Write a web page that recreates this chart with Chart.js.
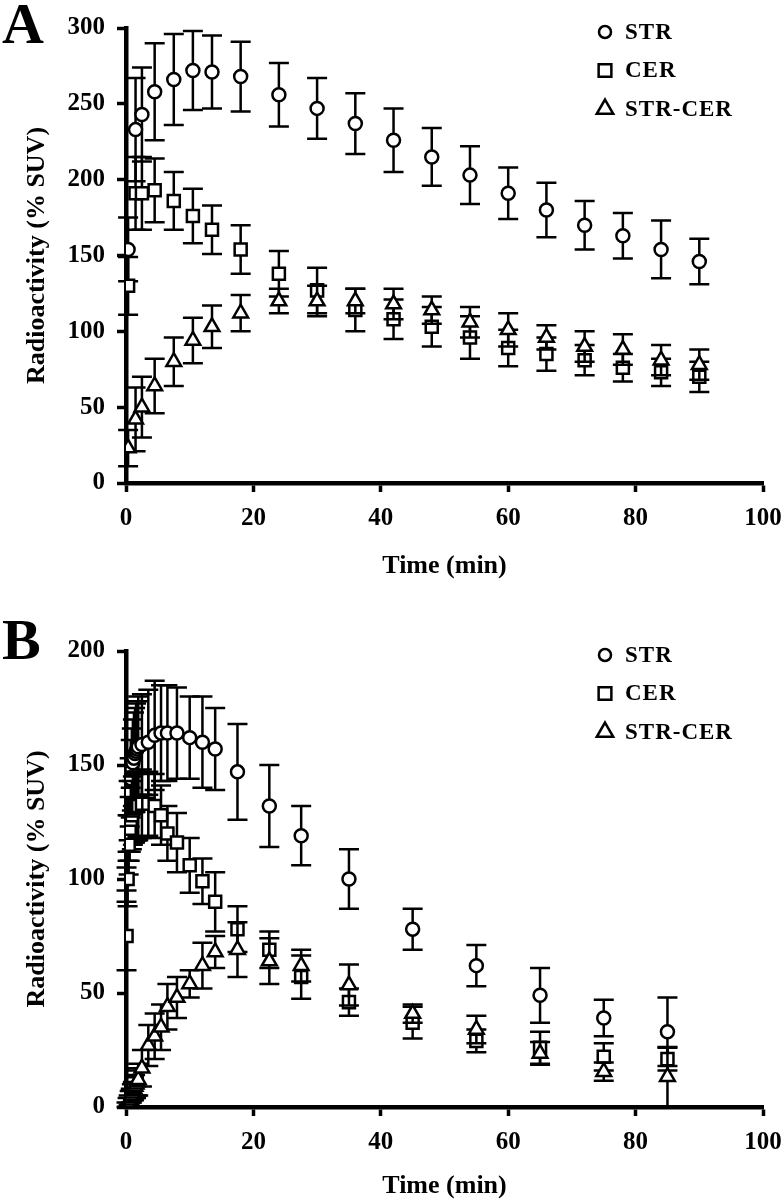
<!DOCTYPE html>
<html>
<head>
<meta charset="utf-8">
<script src="https://cdn.jsdelivr.net/npm/chart.js@4.4.0/dist/chart.umd.min.js"></script>
<style>
  html, body { margin: 0; padding: 0; background: #fff; }
  body { width: 782px; height: 1199px; position: relative; overflow: hidden; }
  .panel { position: absolute; left: 0; width: 782px; }
  .letter { position: absolute; left: 2px; font: bold 58px "Liberation Serif", "Times New Roman", serif; line-height: 1; }
</style>
</head>
<body>
<div class="panel" style="top:0;height:598px"><canvas id="chart-a" width="782" height="598"></canvas></div>
<div class="panel" style="top:598px;height:601px"><canvas id="chart-b" width="782" height="601"></canvas></div>
<div class="letter" style="top:-5px">A</div>
<div class="letter" style="top:611px">B</div>
<script>
// Panel A: time points (min) and mean ± SD (% SUV)
var TIMES_A = [0.33, 1.5, 2.5, 4.5, 7.5, 10.5, 13.5, 18, 24, 30, 36, 42, 48, 54, 60, 66, 72, 78, 84, 90];
var STR_A = [154, 233, 243, 258, 266, 272, 271, 268, 256, 247, 237, 226, 215, 203, 191, 180, 170, 163, 154, 146];
var STR_ERR_A = [21, 34, 31, 32, 30, 26, 24, 23, 21, 20, 20, 21, 19, 19, 17, 18, 16, 15, 19, 15];
var CER_A = [130, 191, 191, 193, 186, 176, 167, 154, 138, 127, 114, 108, 103, 96, 89, 85, 81, 76, 73, 70];
var CER_ERR_A = [19, 24, 24, 21, 19, 18, 16, 16, 15, 15, 14, 13, 13, 14, 12, 11, 10, 9, 9, 10];
var SC_A = [23, 42, 50, 64, 80, 94, 103, 112, 120, 120, 120, 118, 114, 106, 101, 96, 90, 88, 81, 78];
var SC_ERR_A = [12, 21, 20, 18, 16, 15, 14, 12, 8, 10, 8, 10, 9, 10, 11, 8, 10, 10, 10, 10];

// Panel B (first two minutes in 10 s frames, crowded against the y axis)
var TIMES_B = [0.083, 0.25, 0.42, 0.58, 0.75, 0.92, 1.08, 1.25, 1.42, 1.58, 1.75, 1.92,
  2.5, 3.5, 4.5, 5.5, 6.5, 8, 10, 12, 14, 17.5, 22.5, 27.5, 35, 45, 55, 65, 75, 85];
var STR_B = [100, 118, 130, 138, 144, 148, 151, 153, 155, 156, 157, 158,
  159, 160, 163, 164, 164, 164, 162, 160, 157, 147, 132, 119, 100, 78, 62, 49, 39, 33];
var STR_ERR_B = [5, 10, 13, 15, 17, 18, 19, 20, 20, 21, 21, 22,
  22, 23, 24, 21, 21, 20, 18, 20, 18, 21, 18, 13, 13, 9, 9, 12, 8, 15];
var CER_B = [75, 100, 115, 122, 126, 128, 130, 131, 131, 132, 132, 132,
  133, 133, 132, 128, 120, 116, 106, 99, 90, 78, 69, 57, 46, 37, 29, 26, 22, 21];
var CER_ERR_B = [15, 12, 13, 14, 14, 15, 15, 15, 15, 15, 15, 15,
  15, 14, 14, 13, 12, 13, 12, 10, 13, 10, 8, 9.5, 6, 7, 5, 7, 6, 5];
var SC_B = [1, 2, 3, 4, 5, 6, 7, 8, 9, 10, 11, 12,
  17, 27, 31, 35, 44, 48, 54, 62, 68, 69, 64, 62, 53.5, 41, 34, 23.5, 15.5, 13.3];
var SC_ERR_B = [1, 2, 2, 3, 3, 4, 4, 5, 5, 6, 6, 7,
  8, 9, 10, 10, 10, 9, 6, 10, 7, 12, 10, 7, 9, 4, 6, 5, 4, 13];

var LABELS = ['STR', 'CER', 'STR-CER'];
var X_TICKS = [0, 20, 40, 60, 80, 100];

var SERIF = '"Liberation Serif", "Times New Roman", serif';

function points(times, values) {
  return times.map(function (t, i) { return { x: t, y: values[i] }; });
}

/** Vertical error bars with caps, drawn under each dataset's markers. */
var errorBarPlugin = {
  id: 'errorBars',
  beforeDatasetDraw: function (chart, args) {
    var ds = chart.data.datasets[args.index];
    if (!ds.errors) return;
    var xs = chart.scales.x, ys = chart.scales.y, ctx = chart.ctx;
    ctx.save();
    ctx.strokeStyle = '#000';
    ctx.lineWidth = 2.5;
    ds.data.forEach(function (p, i) {
      var e = ds.errors[i];
      var px = xs.getPixelForValue(p.x);
      var top = ys.getPixelForValue(p.y + e);
      var bot = ys.getPixelForValue(Math.max(0, p.y - e));
      ctx.beginPath();
      ctx.moveTo(px, top); ctx.lineTo(px, bot);
      ctx.moveTo(px - 10, top); ctx.lineTo(px + 10, top);
      ctx.moveTo(px - 10, bot); ctx.lineTo(px + 10, bot);
      ctx.stroke();
    });
    ctx.restore();
  }
};

/** Legend stacked in the top-right of the plot area. */
var legendPlugin = {
  id: 'insideLegend',
  afterDraw: function (chart) {
    var ctx = chart.ctx, area = chart.chartArea;
    var x = area.right - 158, y = area.top + 4;
    chart.data.datasets.forEach(function (ds, i) {
      var cy = y + i * 38.5;
      ctx.save();
      ctx.lineWidth = 2.5;
      ctx.strokeStyle = '#000';
      ctx.fillStyle = '#fff';
      Chart.helpers.drawPoint(ctx, { pointStyle: ds.pointStyle, radius: ds.legendRadius, borderWidth: 2.5 }, x, cy);
      ctx.fillStyle = '#000';
      ctx.font = 'bold 23px ' + SERIF;
      ctx.letterSpacing = '1px';
      ctx.textBaseline = 'middle';
      ctx.fillText(ds.label, x + 20, cy + 1);
      ctx.restore();
    });
  }
};

function makeDatasets(times, str, strErr, cer, cerErr, sc, scErr) {
  var base = { showLine: false, borderColor: '#000', backgroundColor: '#fff', borderWidth: 2.5 };
  return [
    Object.assign({ label: LABELS[0], data: points(times, str), errors: strErr,
      pointStyle: 'circle', pointRadius: 6.5, legendRadius: 6, order: 2 }, base),
    Object.assign({ label: LABELS[1], data: points(times, cer), errors: cerErr,
      pointStyle: 'rect', pointRadius: 8.5, legendRadius: 9, order: 1 }, base),
    Object.assign({ label: LABELS[2], data: points(times, sc), errors: scErr,
      pointStyle: 'triangle', pointRadius: 8.5, legendRadius: 9.5, order: 0 }, base)
  ];
}

function renderPanel(id, datasets, yMax, layout) {
  var ctx = document.getElementById(id).getContext('2d');
  var tickFont = { family: SERIF, size: 25, weight: 'bold' };
  var titleFont = { family: SERIF, size: 26, weight: 'bold' };
  return new Chart(ctx, {
    type: 'scatter',
    data: { datasets: datasets },
    options: {
      responsive: false,
      animation: false,
      events: [],
      layout: { autoPadding: false, padding: { left: 0, right: 19, top: layout.top, bottom: 0 } },
      plugins: { legend: { display: false }, tooltip: { enabled: false } },
      scales: {
        x: {
          type: 'linear', min: 0, max: 100, z: 1,
          afterBuildTicks: function (s) { s.ticks = X_TICKS.map(function (v) { return { value: v }; }); },
          ticks: { color: '#000', font: tickFont, padding: 12 },
          grid: { drawOnChartArea: false, tickLength: 9, tickWidth: 3.5, tickColor: '#000' },
          border: { color: '#000', width: 4.5 },
          title: { display: true, text: 'Time (min)', color: '#000', font: titleFont,
            padding: { top: 0, bottom: layout.xTitlePad } },
          afterFit: function (s) {
            s.height = layout.xHeight;
            // let the "100" label hang past the plot edge, as in the figure
            s.paddingLeft = 0;
            s.paddingRight = 0;
          }
        },
        y: {
          type: 'linear', min: 0, max: yMax, z: 1,
          ticks: { stepSize: 50, color: '#000', font: tickFont, padding: 12 },
          grid: { drawOnChartArea: false, tickLength: 9, tickWidth: 3.5, tickColor: '#000' },
          border: { color: '#000', width: 4.5 },
          title: { display: true, text: 'Radioactivity (% SUV)', color: '#000', font: titleFont,
            padding: { top: 22, bottom: 0 } },
          afterFit: function (s) { s.width = 126; }
        }
      }
    },
    plugins: [errorBarPlugin, legendPlugin]
  });
}

renderPanel('chart-a',
  makeDatasets(TIMES_A, STR_A, STR_ERR_A, CER_A, CER_ERR_A, SC_A, SC_ERR_A),
  300, { top: 28, xHeight: 115, xTitlePad: 16 });

renderPanel('chart-b',
  makeDatasets(TIMES_B, STR_B, STR_ERR_B, CER_B, CER_ERR_B, SC_B, SC_ERR_B),
  200, { top: 53, xHeight: 92, xTitlePad: -3 });
</script>
</body>
</html>
